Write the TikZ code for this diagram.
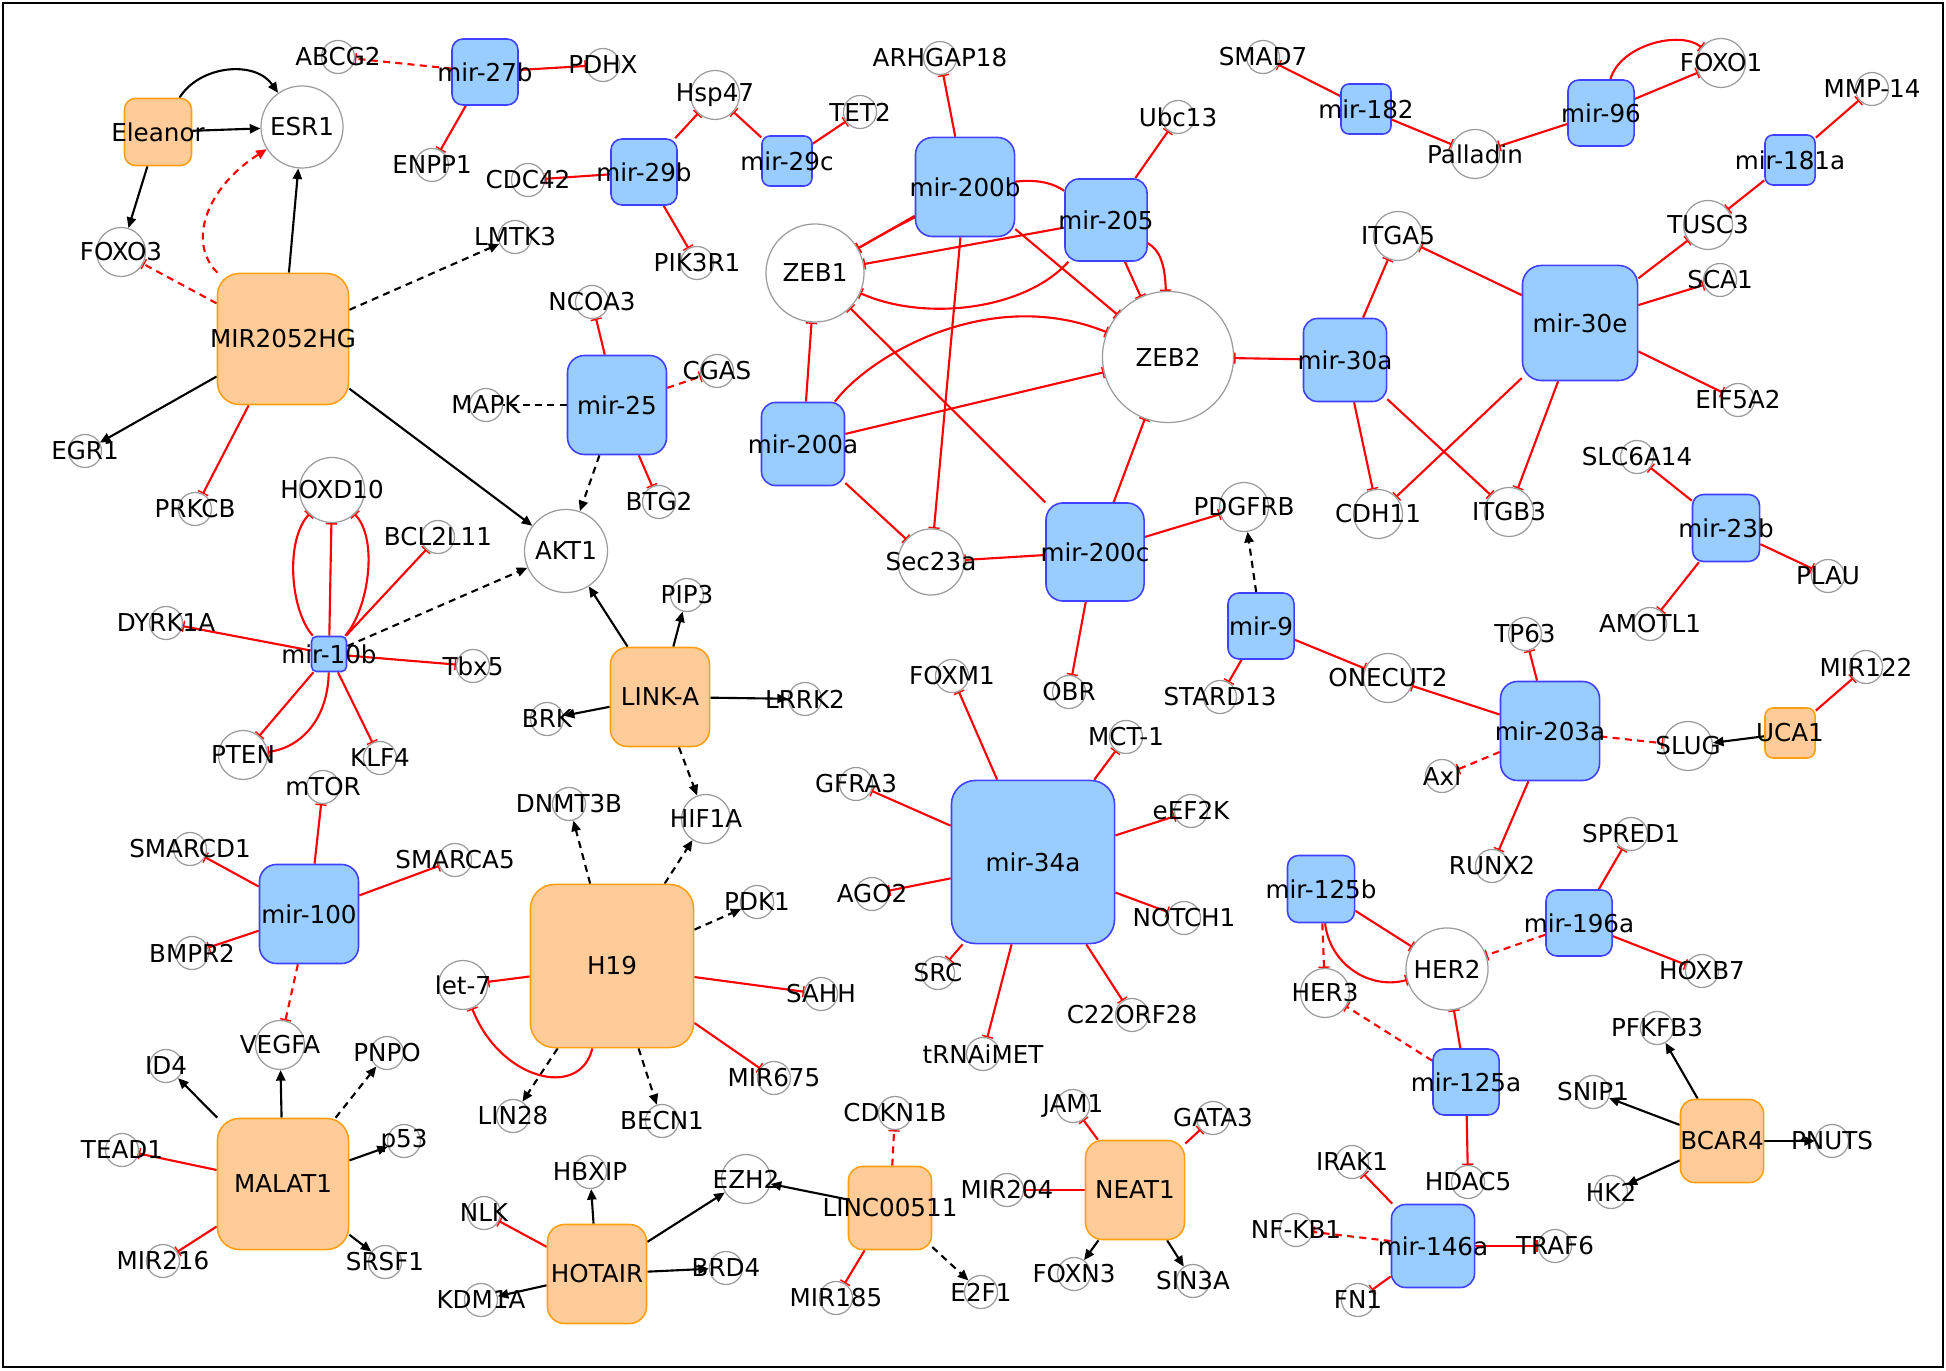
\documentclass[tikz,border=0pt]{standalone}
\usepackage{fontspec}
\setmainfont{DejaVu Sans}
\usetikzlibrary{arrows.meta,backgrounds}
\definecolor{mfill}{RGB}{153,204,255}
\definecolor{mdraw}{RGB}{64,64,255}
\definecolor{lfill}{RGB}{255,204,153}
\definecolor{ldraw}{RGB}{255,160,20}
\definecolor{cgray}{RGB}{155,155,155}
\definecolor{ired}{RGB}{255,0,0}
\tikzset{
  every node/.style={font=\fontsize{7}{8}\selectfont},
  gc/.style={circle, draw=cgray, line width=0.35pt, inner sep=0pt, minimum size=#1},
  gc/.default=0.33cm,
  mb/.style 2 args={rectangle, draw=mdraw, fill=mfill, line width=0.45pt, inner sep=0pt, minimum size=#1, rounded corners=#2},
  lb/.style 2 args={rectangle, draw=ldraw, fill=lfill, line width=0.45pt, inner sep=0pt, minimum size=#1, rounded corners=#2},
  act/.style={draw=black, line width=0.6pt, -{Triangle[length=3pt,width=2.6pt]}},
  actd/.style={act, dash pattern=on 2pt off 1.5pt},
  und/.style={draw=black, line width=0.6pt, dash pattern=on 2pt off 1.5pt},
  actrd/.style={draw=ired, line width=0.6pt, dash pattern=on 2pt off 1.5pt, -{Triangle[length=3pt,width=2.6pt]}},
  inh/.style={draw=ired, line width=0.6pt, -{Bar[width=3.2pt,line width=0.4pt]}},
  inhd/.style={inh, dash pattern=on 2pt off 1.5pt},
}
\begin{document}
\begin{tikzpicture}[x=0.01cm,y=-0.01cm]
\useasboundingbox (0,0) rectangle (1946,1371);
\draw[line width=0.75pt] (3,3) rectangle (1943,1367);

% ---------- lncRNA boxes
\node[lb={0.67cm}{0.11cm}, label=center:{Eleanor}] (Eleanor) at (158,132) {};
\node[lb={1.31cm}{0.22cm}, label=center:{MIR2052HG}] (MIR2052HG) at (283,339) {};
\node[lb={0.99cm}{0.17cm}, label=center:{LINK-A}] (LINKA) at (660,697) {};
\node[lb={1.63cm}{0.24cm}, label=center:{H19}] (H19) at (612,966) {};
\node[lb={1.31cm}{0.22cm}, label=center:{MALAT1}] (MALAT1) at (283,1184) {};
\node[lb={0.99cm}{0.17cm}, label=center:{HOTAIR}] (HOTAIR) at (597,1274) {};
\node[lb={0.83cm}{0.14cm}, label=center:{LINC00511}] (LINC) at (890,1208) {};
\node[lb={0.99cm}{0.17cm}, label=center:{NEAT1}] (NEAT1) at (1135,1190) {};
\node[lb={0.50cm}{0.08cm}, label=center:{UCA1}] (UCA1) at (1790,733) {};
\node[lb={0.83cm}{0.14cm}, label=center:{BCAR4}] (BCAR4) at (1722,1141) {};

% ---------- miRNA boxes
\node[mb={0.66cm}{0.11cm}, label=center:{mir-27b}] (m27b) at (485,72) {};
\node[mb={0.66cm}{0.11cm}, label=center:{mir-29b}] (m29b) at (644,172) {};
\node[mb={0.50cm}{0.08cm}, label=center:{mir-29c}] (m29c) at (787,161) {};
\node[mb={0.99cm}{0.17cm}, label=center:{mir-200b}] (m200b) at (965,187) {};
\node[mb={0.82cm}{0.14cm}, label=center:{mir-205}] (m205) at (1106,220) {};
\node[mb={0.50cm}{0.08cm}, label=center:{mir-182}] (m182) at (1366,109) {};
\node[mb={0.66cm}{0.11cm}, label=center:{mir-96}] (m96) at (1601,113) {};
\node[mb={0.50cm}{0.08cm}, label=center:{mir-181a}] (m181a) at (1790,160) {};
\node[mb={1.15cm}{0.19cm}, label=center:{mir-30e}] (m30e) at (1580,323) {};
\node[mb={0.83cm}{0.14cm}, label=center:{mir-30a}] (m30a) at (1345,360) {};
\node[mb={0.99cm}{0.17cm}, label=center:{mir-25}] (m25) at (617,405) {};
\node[mb={0.83cm}{0.14cm}, label=center:{mir-200a}] (m200a) at (803,444) {};
\node[mb={0.35cm}{0.05cm}, label=center:{mir-10b}] (m10b) at (329,654) {};
\node[mb={0.98cm}{0.17cm}, label=center:{mir-200c}] (m200c) at (1095,552) {};
\node[mb={0.66cm}{0.11cm}, label=center:{mir-9}] (m9) at (1261,626) {};
\node[mb={0.67cm}{0.11cm}, label=center:{mir-23b}] (m23b) at (1726,528) {};
\node[mb={0.99cm}{0.17cm}, label=center:{mir-203a}] (m203a) at (1550,731) {};
\node[mb={0.99cm}{0.17cm}, label=center:{mir-100}] (m100) at (309,914) {};
\node[mb={1.63cm}{0.24cm}, label=center:{mir-34a}] (m34a) at (1033,862) {};
\node[mb={0.67cm}{0.11cm}, label=center:{mir-125b}] (m125b) at (1321,889) {};
\node[mb={0.66cm}{0.11cm}, label=center:{mir-196a}] (m196a) at (1579,923) {};
\node[mb={0.66cm}{0.11cm}, label=center:{mir-125a}] (m125a) at (1466,1082) {};
\node[mb={0.83cm}{0.14cm}, label=center:{mir-146a}] (m146a) at (1433,1246) {};

% ---------- large circles
\node[gc=0.82cm, label=center:{ESR1}] (ESR1) at (302,127) {};
\node[gc=0.98cm, label=center:{ZEB1}] (ZEB1) at (815,273) {};
\node[gc=1.31cm, label=center:{ZEB2}] (ZEB2) at (1168,357) {};
\node[gc=0.65cm, label=center:{HOXD10}] (HOXD10) at (332,490) {};
\node[gc=0.83cm, label=center:{AKT1}] (AKT1) at (566,551) {};
\node[gc=0.66cm, label=center:{Sec23a}] (Sec23a) at (931,562) {};
\node[gc=0.82cm, label=center:{HER2}] (HER2) at (1447,969) {};

% ---------- medium circles
\node[gc=0.49cm, label=center:{FOXO3}] (FOXO3) at (121,252) {};
\node[gc=0.49cm, label=center:{Hsp47}] (Hsp47) at (715,95) {};
\node[gc=0.49cm, label=center:{Palladin}] (Palladin) at (1475,154) {};
\node[gc=0.49cm, label=center:{ITGA5}] (ITGA5) at (1398,236) {};
\node[gc=0.49cm, label=center:{FOXO1}] (FOXO1) at (1721,63) {};
\node[gc=0.49cm, label=center:{TUSC3}] (TUSC3) at (1708,225) {};
\node[gc=0.49cm, label=center:{PTEN}] (PTEN) at (243,755) {};
\node[gc=0.49cm, label=center:{HIF1A}] (HIF1A) at (706,819) {};
\node[gc=0.49cm, label=center:{PDGFRB}] (PDGFRB) at (1244,507) {};
\node[gc=0.49cm, label=center:{CDH11}] (CDH11) at (1378,514) {};
\node[gc=0.49cm, label=center:{ONECUT2}] (ONECUT2) at (1388,678) {};
\node[gc=0.49cm, label=center:{ITGB3}] (ITGB3) at (1509,512) {};
\node[gc=0.49cm, label=center:{SLUG}] (SLUG) at (1688,746) {};
\node[gc=0.49cm, label=center:{let-7}] (let7) at (463,985) {};
\node[gc=0.49cm, label=center:{VEGFA}] (VEGFA) at (280,1045) {};
\node[gc=0.49cm, label=center:{EZH2}] (EZH2) at (746,1179) {};
\node[gc=0.49cm, label=center:{HER3}] (HER3) at (1325,993) {};

% ---------- small circles
\node[gc, label=center:{ABCG2}] (ABCG2) at (338,57) {};
\node[gc, label=center:{ENPP1}] (ENPP1) at (432,165) {};
\node[gc, label=center:{EGR1}] (EGR1) at (85,451) {};
\node[gc, label=center:{PDHX}] (PDHX) at (603,65) {};
\node[gc, label=center:{TET2}] (TET2) at (860,112) {};
\node[gc, label=center:{ARHGAP18}] (ARHGAP18) at (940,58) {};
\node[gc, label=center:{CDC42}] (CDC42) at (528,180) {};
\node[gc, label=center:{PIK3R1}] (PIK3R1) at (697,263) {};
\node[gc, label=center:{LMTK3}] (LMTK3) at (515,237) {};
\node[gc, label=center:{NCOA3}] (NCOA3) at (592,302) {};
\node[gc, label=center:{CGAS}] (CGAS) at (717,371) {};
\node[gc, label=center:{MAPK}] (MAPK) at (486,405) {};
\node[gc, label=center:{Ubc13}] (Ubc13) at (1178,117) {};
\node[gc, label=center:{SMAD7}] (SMAD7) at (1263,57) {};
\node[gc, label=center:{MMP-14}] (MMP14) at (1872,89) {};
\node[gc, label=center:{SCA1}] (SCA1) at (1720,280) {};
\node[gc, label=center:{EIF5A2}] (EIF5A2) at (1738,400) {};
\node[gc, label=center:{SLC6A14}] (SLC6A14) at (1637,457) {};
\node[gc, label=center:{PRKCB}] (PRKCB) at (195,509) {};
\node[gc, label=center:{BCL2L11}] (BCL2L11) at (438,537) {};
\node[gc, label=center:{DYRK1A}] (DYRK1A) at (166,623) {};
\node[gc, label=center:{Tbx5}] (Tbx5) at (473,666) {};
\node[gc, label=center:{KLF4}] (KLF4) at (380,758) {};
\node[gc, label=center:{mTOR}] (mTOR) at (323,787) {};
\node[gc, label=center:{SMARCD1}] (SMARCD1) at (190,849) {};
\node[gc, label=center:{SMARCA5}] (SMARCA5) at (455,860) {};
\node[gc, label=center:{BTG2}] (BTG2) at (659,502) {};
\node[gc, label=center:{PIP3}] (PIP3) at (687,595) {};
\node[gc, label=center:{BRK}] (BRK) at (547,719) {};
\node[gc, label=center:{LRRK2}] (LRRK2) at (805,699) {};
\node[gc, label=center:{FOXM1}] (FOXM1) at (952,676) {};
\node[gc, label=center:{DNMT3B}] (DNMT3B) at (569,804) {};
\node[gc, label=center:{GFRA3}] (GFRA3) at (856,784) {};
\node[gc, label=center:{AGO2}] (AGO2) at (872,894) {};
\node[gc, label=center:{PDK1}] (PDK1) at (757,902) {};
\node[gc, label=center:{OBR}] (OBR) at (1069,692) {};
\node[gc, label=center:{STARD13}] (STARD13) at (1220,697) {};
\node[gc, label=center:{MCT-1}] (MCT1) at (1126,737) {};
\node[gc, label=center:{eEF2K}] (eEF2K) at (1191,811) {};
\node[gc, label=center:{Axl}] (Axl) at (1442,776) {};
\node[gc, label=center:{NOTCH1}] (NOTCH1) at (1184,918) {};
\node[gc, label=center:{PLAU}] (PLAU) at (1828,576) {};
\node[gc, label=center:{AMOTL1}] (AMOTL1) at (1650,624) {};
\node[gc, label=center:{TP63}] (TP63) at (1525,634) {};
\node[gc, label=center:{MIR122}] (MIR122) at (1866,667) {};
\node[gc, label=center:{RUNX2}] (RUNX2) at (1492,866) {};
\node[gc, label=center:{SPRED1}] (SPRED1) at (1631,834) {};
\node[gc, label=center:{BMPR2}] (BMPR2) at (192,953) {};
\node[gc, label=center:{ID4}] (ID4) at (166,1066) {};
\node[gc, label=center:{PNPO}] (PNPO) at (387,1053) {};
\node[gc, label=center:{TEAD1}] (TEAD1) at (122,1150) {};
\node[gc, label=center:{p53}] (p53) at (404,1141) {};
\node[gc, label=center:{MIR216}] (MIR216) at (163,1261) {};
\node[gc, label=center:{SRSF1}] (SRSF1) at (385,1262) {};
\node[gc, label=center:{NLK}] (NLK) at (484,1213) {};
\node[gc, label=center:{KDM1A}] (KDM1A) at (481,1300) {};
\node[gc, label=center:{LIN28}] (LIN28) at (513,1116) {};
\node[gc, label=center:{SAHH}] (SAHH) at (821,994) {};
\node[gc, label=center:{SRC}] (SRC) at (938,973) {};
\node[gc, label=center:{MIR675}] (MIR675) at (774,1078) {};
\node[gc, label=center:{BECN1}] (BECN1) at (662,1121) {};
\node[gc, label=center:{tRNAiMET}] (tRNAiMET) at (983,1054) {};
\node[gc, label=center:{CDKN1B}] (CDKN1B) at (895,1113) {};
\node[gc, label=center:{HBXIP}] (HBXIP) at (590,1172) {};
\node[gc, label=center:{BRD4}] (BRD4) at (726,1268) {};
\node[gc, label=center:{MIR185}] (MIR185) at (836,1298) {};
\node[gc, label=center:{E2F1}] (E2F1) at (981,1292) {};
\node[gc, label=center:{C22ORF28}] (C22ORF28) at (1132,1015) {};
\node[gc, label=center:{JAM1}] (JAM1) at (1073,1106) {};
\node[gc, label=center:{GATA3}] (GATA3) at (1213,1118) {};
\node[gc, label=center:{MIR204}] (MIR204) at (1007,1190) {};
\node[gc, label=center:{FOXN3}] (FOXN3) at (1074,1274) {};
\node[gc, label=center:{SIN3A}] (SIN3A) at (1193,1281) {};
\node[gc, label=center:{IRAK1}] (IRAK1) at (1352,1162) {};
\node[gc, label=center:{NF-KB1}] (NFKB1) at (1296,1230) {};
\node[gc, label=center:{FN1}] (FN1) at (1358,1300) {};
\node[gc, label=center:{HDAC5}] (HDAC5) at (1468,1182) {};
\node[gc, label=center:{HOXB7}] (HOXB7) at (1702,971) {};
\node[gc, label=center:{PFKFB3}] (PFKFB3) at (1657,1028) {};
\node[gc, label=center:{SNIP1}] (SNIP1) at (1593,1092) {};
\node[gc, label=center:{PNUTS}] (PNUTS) at (1832,1141) {};
\node[gc, label=center:{HK2}] (HK2) at (1611,1192) {};
\node[gc, label=center:{TRAF6}] (TRAF6) at (1555,1246) {};

% ---------- connectors
\begin{pgfonlayer}{background}
% Eleanor, MIR2052HG
\draw[act] (Eleanor) -- (ESR1);
\draw[act] (Eleanor) .. controls (200,65) and (255,60) .. (ESR1);
\draw[act] (Eleanor) -- (FOXO3);
\draw[act] (MIR2052HG) -- (ESR1);
\draw[actrd] (MIR2052HG) .. controls (185,240) and (210,185) .. (ESR1);
\draw[inhd] (MIR2052HG) -- (FOXO3);
\draw[actd] (MIR2052HG) -- (LMTK3);
\draw[act] (MIR2052HG) -- (EGR1);
\draw[inh] (MIR2052HG) -- (PRKCB);
\draw[act] (MIR2052HG) -- (AKT1);
% mir-27b, mir-29b, mir-29c
\draw[inhd] (m27b) -- (ABCG2);
\draw[inh] (m27b) -- (PDHX);
\draw[inh] (m27b) -- (ENPP1);
\draw[inh] (m29b) -- (Hsp47);
\draw[inh] (m29b) -- (CDC42);
\draw[inh] (m29b) -- (PIK3R1);
\draw[inh] (m29c) -- (Hsp47);
\draw[inh] (m29c) -- (TET2);
% mir-200b, mir-205
\draw[inh] (m200b) -- (ARHGAP18);
\draw[inh] (m200b) -- (ZEB1);
\draw[inh] (m200b) -- (ZEB2);
\draw[inh] (m200b) -- (Sec23a);
\draw[inh] (m205) -- (Ubc13);
\draw[inh] (m205) -- (ZEB1);
\draw[inh] (m205) .. controls (1025,310) and (925,322) .. (ZEB1);
\draw[inh] (m205) .. controls (1020,160) and (930,207) .. (ZEB1);
\draw[inh] (m205) -- (ZEB2);
\draw[inh] (m205) .. controls (1160,250) and (1165,265) .. (ZEB2);
% mir-182, mir-96, mir-181a
\draw[inh] (m182) -- (SMAD7);
\draw[inh] (m182) -- (Palladin);
\draw[inh] (m96) -- (Palladin);
\draw[inh] (m96) -- (FOXO1);
\draw[inh] (m96) .. controls (1620,45) and (1680,30) .. (FOXO1);
\draw[inh] (m181a) -- (MMP14);
\draw[inh] (m181a) -- (TUSC3);
% mir-30a, mir-30e
\draw[inh] (m30a) -- (ZEB2);
\draw[inh] (m30a) -- (ITGA5);
\draw[inh] (m30a) -- (CDH11);
\draw[inh] (m30a) -- (ITGB3);
\draw[inh] (m30e) -- (ITGA5);
\draw[inh] (m30e) -- (TUSC3);
\draw[inh] (m30e) -- (SCA1);
\draw[inh] (m30e) -- (EIF5A2);
\draw[inh] (m30e) -- (CDH11);
\draw[inh] (m30e) -- (ITGB3);
% mir-25
\draw[inh] (m25) -- (NCOA3);
\draw[inhd] (m25) -- (CGAS);
\draw[und] (m25) -- (MAPK);
\draw[actd] (m25) -- (AKT1);
\draw[inh] (m25) -- (BTG2);
% mir-200a, mir-200c
\draw[inh] (m200a) -- (ZEB1);
\draw[inh] (m200a) -- (ZEB2);
\draw[inh] (m200a) .. controls (870,355) and (990,285) .. (ZEB2);
\draw[inh] (m200a) -- (Sec23a);
\draw[inh] (m200c) -- (Sec23a);
\draw[inh] (m200c) -- (ZEB1);
\draw[inh] (m200c) -- (ZEB2);
\draw[inh] (m200c) -- (PDGFRB);
\draw[inh] (m200c) -- (OBR);
% mir-10b
\draw[inh] (m10b) -- (HOXD10);
\draw[inh] (m10b) .. controls (290,610) and (285,540) .. (HOXD10);
\draw[inh] (m10b) .. controls (368,610) and (379,540) .. (HOXD10);
\draw[inh] (m10b) -- (BCL2L11);
\draw[inh] (m10b) -- (DYRK1A);
\draw[inh] (m10b) -- (Tbx5);
\draw[inh] (m10b) -- (PTEN);
\draw[inh] (m10b) .. controls (328,720) and (300,748) .. (PTEN);
\draw[inh] (m10b) -- (KLF4);
\draw[actd] (m10b) -- (AKT1);
% LINK-A
\draw[act] (LINKA) -- (AKT1);
\draw[act] (LINKA) -- (PIP3);
\draw[act] (LINKA) -- (BRK);
\draw[act] (LINKA) -- (LRRK2);
\draw[actd] (LINKA) -- (HIF1A);
% mir-100
\draw[inh] (m100) -- (mTOR);
\draw[inh] (m100) -- (SMARCD1);
\draw[inh] (m100) -- (SMARCA5);
\draw[inh] (m100) -- (BMPR2);
\draw[inhd] (m100) -- (VEGFA);
% H19
\draw[actd] (H19) -- (DNMT3B);
\draw[actd] (H19) -- (HIF1A);
\draw[actd] (H19) -- (PDK1);
\draw[actd] (H19) -- (LIN28);
\draw[actd] (H19) -- (BECN1);
\draw[inh] (H19) -- (let7);
\draw[inh] (H19) .. controls (580,1100) and (500,1080) .. (let7);
\draw[inh] (H19) -- (SAHH);
\draw[inh] (H19) -- (MIR675);
% MALAT1
\draw[act] (MALAT1) -- (VEGFA);
\draw[act] (MALAT1) -- (ID4);
\draw[actd] (MALAT1) -- (PNPO);
\draw[act] (MALAT1) -- (p53);
\draw[act] (MALAT1) -- (SRSF1);
\draw[inh] (MALAT1) -- (TEAD1);
\draw[inh] (MALAT1) -- (MIR216);
% mir-34a
\draw[inh] (m34a) -- (FOXM1);
\draw[inh] (m34a) -- (MCT1);
\draw[inh] (m34a) -- (GFRA3);
\draw[inh] (m34a) -- (eEF2K);
\draw[inh] (m34a) -- (AGO2);
\draw[inh] (m34a) -- (NOTCH1);
\draw[inh] (m34a) -- (SRC);
\draw[inh] (m34a) -- (C22ORF28);
\draw[inh] (m34a) -- (tRNAiMET);
% mir-9, mir-23b, mir-203a, UCA1
\draw[actd] (m9) -- (PDGFRB);
\draw[inh] (m9) -- (STARD13);
\draw[inh] (m9) -- (ONECUT2);
\draw[inh] (m23b) -- (SLC6A14);
\draw[inh] (m23b) -- (PLAU);
\draw[inh] (m23b) -- (AMOTL1);
\draw[inh] (m203a) -- (ONECUT2);
\draw[inh] (m203a) -- (TP63);
\draw[inh] (m203a) -- (RUNX2);
\draw[inhd] (m203a) -- (SLUG);
\draw[inhd] (m203a) -- (Axl);
\draw[act] (UCA1) -- (SLUG);
\draw[inh] (UCA1) -- (MIR122);
% HER2 cluster
\draw[inh] (m125b) -- (HER2);
\draw[inh] (m125b) .. controls (1330,965) and (1370,990) .. (HER2);
\draw[inhd] (m125b) -- (HER3);
\draw[inh] (m196a) -- (SPRED1);
\draw[inh] (m196a) -- (HOXB7);
\draw[inhd] (m196a) -- (HER2);
\draw[inh] (m125a) -- (HER2);
\draw[inh] (m125a) -- (HDAC5);
\draw[inhd] (m125a) -- (HER3);
% mir-146a
\draw[inh] (m146a) -- (IRAK1);
\draw[inh] (m146a) -- (FN1);
\draw[inh] (m146a) -- (TRAF6);
\draw[inhd] (m146a) -- (NFKB1);
% BCAR4
\draw[act] (BCAR4) -- (PFKFB3);
\draw[act] (BCAR4) -- (SNIP1);
\draw[act] (BCAR4) -- (PNUTS);
\draw[act] (BCAR4) -- (HK2);
% HOTAIR, LINC00511, NEAT1
\draw[act] (HOTAIR) -- (HBXIP);
\draw[act] (HOTAIR) -- (EZH2);
\draw[act] (HOTAIR) -- (BRD4);
\draw[act] (HOTAIR) -- (KDM1A);
\draw[inh] (HOTAIR) -- (NLK);
\draw[act] (LINC) -- (EZH2);
\draw[inhd] (LINC) -- (CDKN1B);
\draw[inh] (LINC) -- (MIR185);
\draw[actd] (LINC) -- (E2F1);
\draw[inh] (NEAT1) -- (JAM1);
\draw[inh] (NEAT1) -- (GATA3);
\draw[inh] (NEAT1) -- (MIR204);
\draw[act] (NEAT1) -- (FOXN3);
\draw[act] (NEAT1) -- (SIN3A);
\end{pgfonlayer}
\end{tikzpicture}
\end{document}
